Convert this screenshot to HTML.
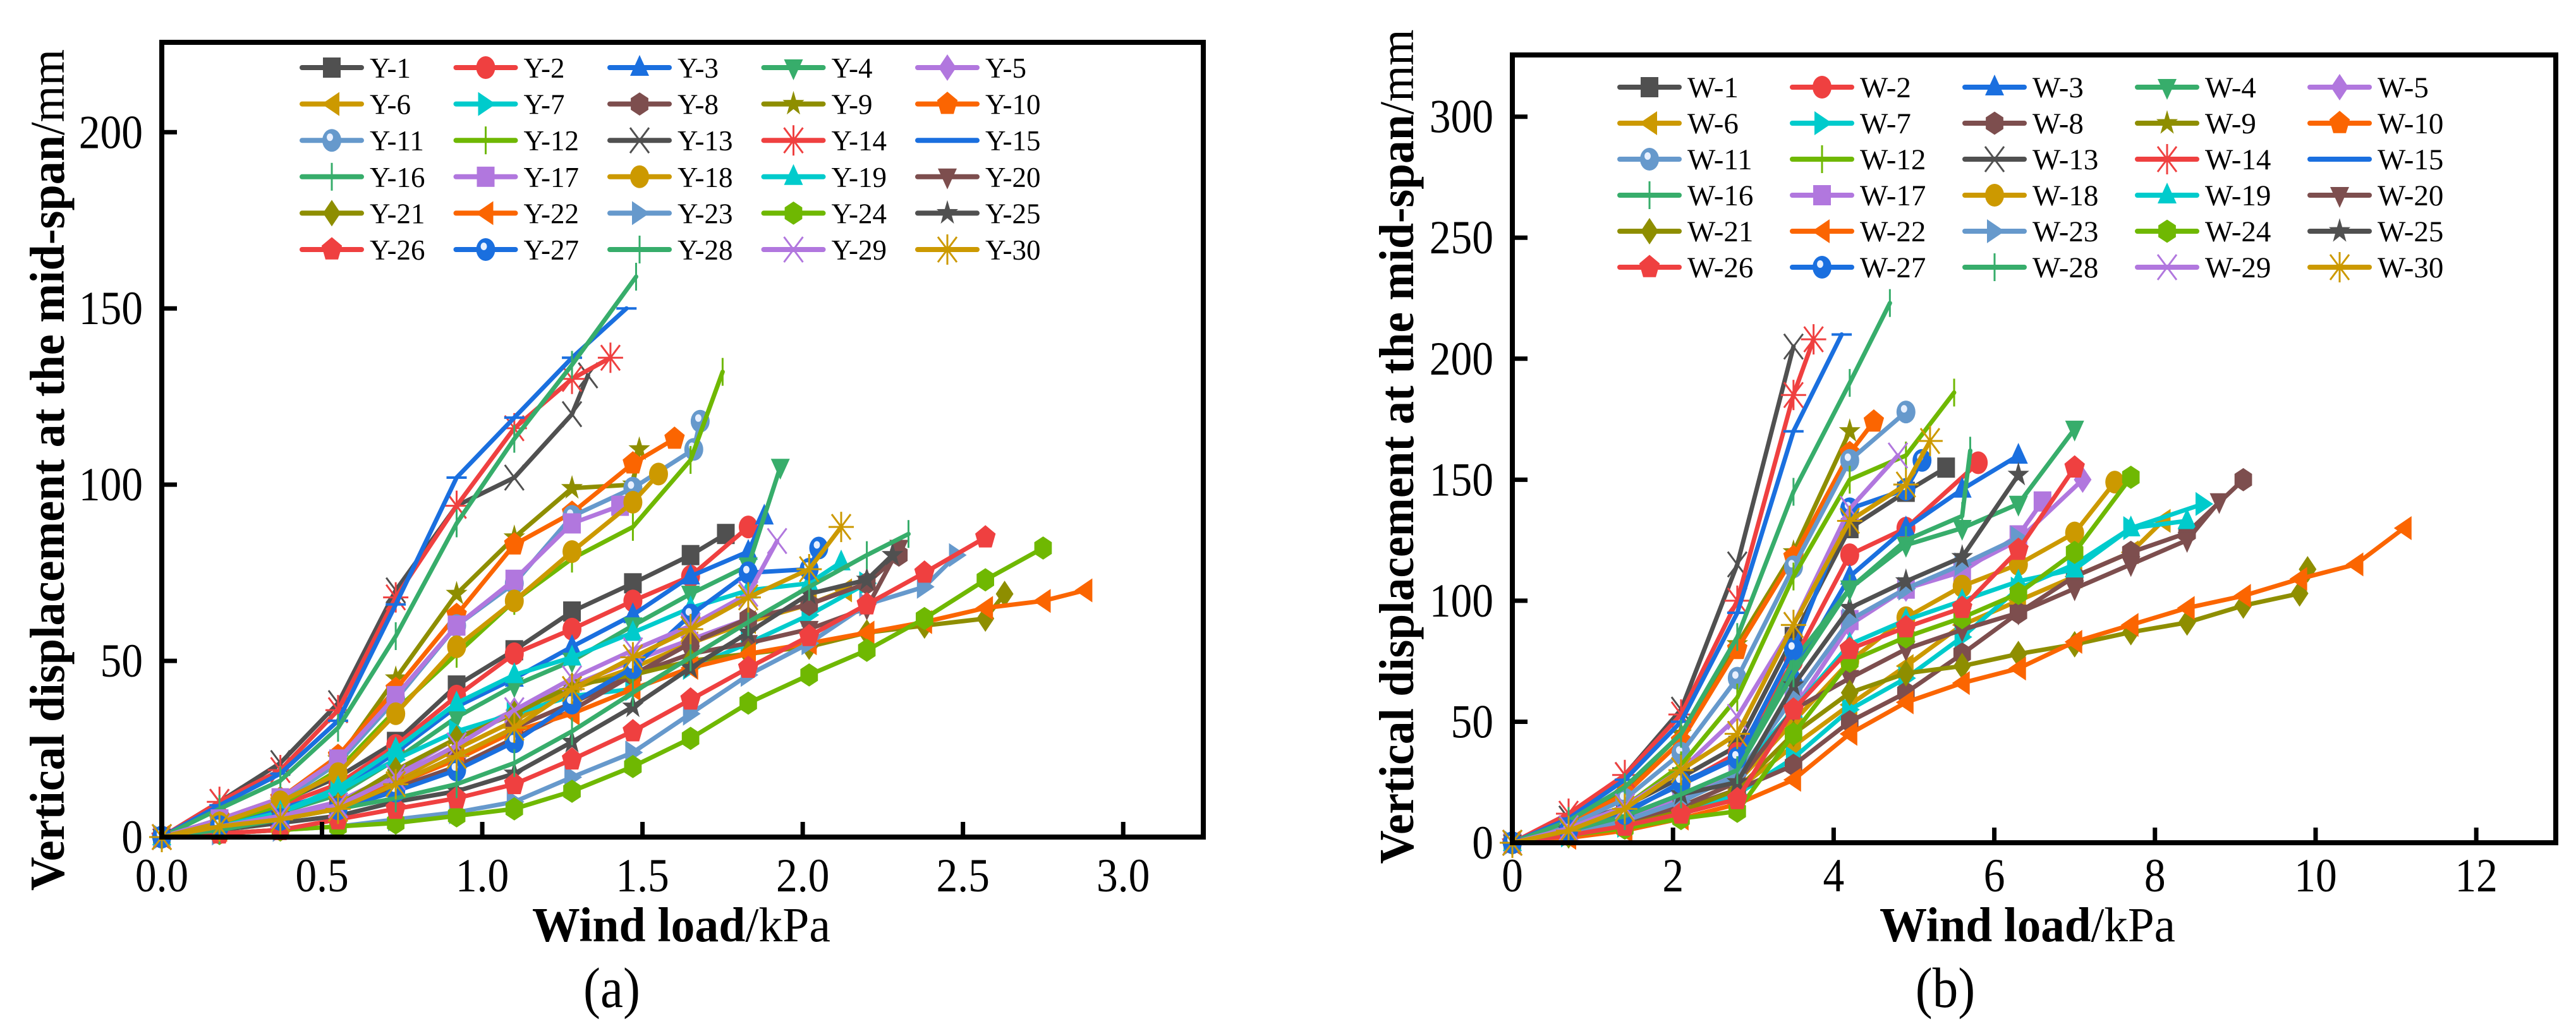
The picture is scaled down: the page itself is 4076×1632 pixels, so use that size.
<!DOCTYPE html>
<html><head><meta charset="utf-8"><style>
html,body{margin:0;padding:0;background:#fff;}
svg{display:block;font-family:"Liberation Serif",serif;}
</style></head><body>
<svg id="fig" width="4076" height="1632" viewBox="0 0 4076 1632" xmlns="http://www.w3.org/2000/svg"></svg>
<script>
// ---- data: panel (a) ----
const aXTicks = [0,0.5,1.0,1.5,2.0,2.5,3.0];
const aXTickLabels = ["0.0","0.5","1.0","1.5","2.0","2.5","3.0"];
const aYTicks = [0,50,100,150,200];
const aNames = ["Y-1","Y-2","Y-3","Y-4","Y-5","Y-6","Y-7","Y-8","Y-9","Y-10","Y-11","Y-12","Y-13","Y-14","Y-15","Y-16","Y-17","Y-18","Y-19","Y-20","Y-21","Y-22","Y-23","Y-24","Y-25","Y-26","Y-27","Y-28","Y-29","Y-30"];
const aPts = [
[[0,0],[.18,5],[.37,10],[.55,17],[.73,27],[.92,43],[1.1,53],[1.28,64],[1.47,72],[1.65,80],[1.76,86]],
[[0,0],[.18,4],[.37,9],[.55,15],[.73,26],[.92,40],[1.1,52],[1.28,59],[1.47,67],[1.65,74],[1.83,88]],
[[0,0],[.18,3],[.37,8],[.55,13],[.73,24],[.92,37],[1.1,45],[1.28,54],[1.47,63],[1.65,74],[1.83,81],[1.88,91]],
[[0,0],[.18,3],[.37,7],[.55,12],[.73,22],[.92,34],[1.1,43],[1.28,50],[1.47,60],[1.65,69],[1.83,77],[1.93,105]],
[[0,0],[.18,2],[.37,6],[.55,10],[.73,18],[.92,28],[1.1,36],[1.28,43],[1.47,50],[1.65,56],[1.83,62]],
[[0,0],[.18,2],[.37,5],[.55,9],[.73,16],[.92,25],[1.1,33],[1.28,42],[1.47,48],[1.65,55],[1.83,61],[2.02,66],[2.13,70]],
[[0,0],[.18,3],[.37,7],[.55,13],[.73,22],[.92,30],[1.1,35],[1.28,40],[1.47,42],[1.65,48],[1.83,55],[2.02,63],[2.2,72]],
[[0,0],[.18,2],[.37,5],[.55,9],[.73,15],[.92,23],[1.1,31],[1.28,38],[1.47,46],[1.65,55],[1.83,62],[2.02,66],[2.2,72],[2.3,80]],
[[0,0],[.18,5],[.37,10],[.55,22],[.73,45],[.92,69],[1.1,85],[1.28,99],[1.47,100],[1.49,110]],
[[0,0],[.18,5],[.37,11],[.55,23],[.73,42],[.92,63],[1.1,83],[1.28,92],[1.47,106],[1.6,113]],
[[0,0],[.18,5],[.37,10],[.55,21],[.73,39],[.92,60],[1.1,72],[1.28,91],[1.47,99],[1.66,110],[1.68,118]],
[[0,0],[.18,4],[.37,9],[.55,19],[.73,36],[.92,52],[1.1,67],[1.28,79],[1.47,88],[1.65,107],[1.75,132]],
[[0,0],[.18,10],[.37,21],[.55,38],[.73,70],[.92,94],[1.1,102],[1.28,120],[1.33,131]],
[[0,0],[.18,10],[.37,19],[.55,36],[.73,68],[.92,94],[1.1,116],[1.28,130],[1.4,136]],
[[0,0],[.18,9],[.37,18],[.55,33],[.73,66],[.92,102],[1.1,119],[1.28,136],[1.45,150]],
[[0,0],[.18,8],[.37,16],[.55,31],[.73,57],[.92,89],[1.1,113],[1.28,134],[1.48,159]],
[[0,0],[.18,5],[.37,11],[.55,22],[.73,40],[.92,60],[1.1,73],[1.28,89],[1.43,94]],
[[0,0],[.18,4],[.37,10],[.55,18],[.73,35],[.92,54],[1.1,67],[1.28,81],[1.47,95],[1.55,103]],
[[0,0],[.18,3],[.37,7],[.55,14],[.73,25],[.92,38],[1.1,46],[1.28,51],[1.47,58],[1.65,65],[1.83,70],[2.02,72],[2.12,78]],
[[0,0],[.18,2],[.37,5],[.55,9],[.73,14],[.92,20],[1.1,28],[1.28,36],[1.47,46],[1.65,52],[1.83,55],[2.02,59],[2.2,65],[2.3,82]],
[[0,0],[.18,2],[.37,5],[.55,9],[.73,19],[.92,28],[1.1,35],[1.28,43],[1.47,46],[1.65,50],[1.83,52],[2.02,54],[2.2,58],[2.38,60],[2.57,62],[2.63,69]],
[[0,0],[.18,2],[.37,5],[.55,9],[.73,15],[.92,22],[1.1,30],[1.28,35],[1.47,42],[1.65,48],[1.83,52],[2.02,55],[2.2,58],[2.38,61],[2.57,65],[2.75,67],[2.88,70]],
[[0,0],[.18,1],[.37,2],[.55,3],[.73,5],[.92,7],[1.1,10],[1.28,17],[1.47,24],[1.65,35],[1.83,46],[2.02,55],[2.2,66],[2.38,71],[2.48,80]],
[[0,0],[.18,1],[.37,2],[.55,3],[.73,4],[.92,6],[1.1,8],[1.28,13],[1.47,20],[1.65,28],[1.83,38],[2.02,46],[2.2,53],[2.38,62],[2.57,73],[2.75,82]],
[[0,0],[.18,2],[.37,4],[.55,6],[.73,10],[.92,13],[1.1,18],[1.28,27],[1.47,37],[1.65,48],[1.83,58],[2.02,69],[2.2,73],[2.28,80]],
[[0,0],[.18,1],[.37,2],[.55,5],[.73,8],[.92,11],[1.1,15],[1.28,22],[1.47,30],[1.65,39],[1.83,48],[2.02,57],[2.2,66],[2.38,75],[2.57,85]],
[[0,0],[.18,3],[.37,5],[.55,8],[.73,13],[.92,19],[1.1,27],[1.28,38],[1.47,48],[1.65,63],[1.83,75],[2.02,76],[2.05,82]],
[[0,0],[.18,2],[.37,5],[.55,8],[.73,11],[.92,15],[1.1,21],[1.28,30],[1.47,41],[1.65,51],[1.83,61],[2.02,71],[2.2,80],[2.33,86]],
[[0,0],[.18,3],[.37,6],[.55,9],[.73,17],[.92,26],[1.1,36],[1.28,45],[1.47,53],[1.65,60],[1.83,69],[1.92,84]],
[[0,0],[.18,3],[.37,5],[.55,8],[.73,15],[.92,23],[1.1,31],[1.28,42],[1.47,51],[1.65,59],[1.83,68],[2.02,76],[2.12,88]]
];
// ---- data: panel (b) ----
const bXTicks = [0,2,4,6,8,10,12];
const bYTicks = [0,50,100,150,200,250,300];
const bNames = ["W-1","W-2","W-3","W-4","W-5","W-6","W-7","W-8","W-9","W-10","W-11","W-12","W-13","W-14","W-15","W-16","W-17","W-18","W-19","W-20","W-21","W-22","W-23","W-24","W-25","W-26","W-27","W-28","W-29","W-30"];
const bPts = [
[[0,0],[.7,7],[1.4,15],[2.1,27],[2.8,40],[3.5,85],[4.2,130],[4.9,145],[5.4,155]],
[[0,0],[.7,6],[1.4,13],[2.1,24],[2.8,37],[3.5,75],[4.2,119],[4.9,130],[5.8,157]],
[[0,0],[.7,6],[1.4,13],[2.1,24],[2.8,35],[3.5,70],[4.2,110],[4.9,130],[5.6,146],[6.3,160]],
[[0,0],[.7,5],[1.4,11],[2.1,20],[2.8,30],[3.5,75],[4.2,105],[4.9,123],[5.6,130],[6.3,140],[7.0,171]],
[[0,0],[.7,5],[1.4,10],[2.1,18],[2.8,28],[3.5,55],[4.2,90],[4.9,105],[5.6,113],[6.3,125],[7.1,150]],
[[0,0],[.7,3],[1.4,7],[2.1,13],[2.8,22],[3.5,40],[4.2,57],[4.9,73],[5.6,90],[6.3,100],[7.0,110],[7.7,120],[8.1,133]],
[[0,0],[.7,3],[1.4,7],[2.1,12],[2.8,20],[3.5,35],[4.2,55],[4.9,68],[5.6,85],[6.3,105],[7.0,115],[7.7,130],[8.6,140]],
[[0,0],[.7,3],[1.4,7],[2.1,14],[2.8,22],[3.5,32],[4.2,50],[4.9,62],[5.6,78],[6.3,95],[7.0,110],[7.7,120],[8.4,128],[9.1,150]],
[[0,0],[.7,9],[1.4,22],[2.1,45],[2.8,82],[3.5,120],[4.2,170]],
[[0,0],[.7,8],[1.4,20],[2.1,42],[2.8,80],[3.5,118],[4.2,161],[4.5,174]],
[[0,0],[.7,7],[1.4,18],[2.1,37],[2.8,68],[3.5,114],[4.2,158],[4.9,178]],
[[0,0],[.7,6],[1.4,15],[2.1,32],[2.8,60],[3.5,110],[4.2,150],[4.9,160],[5.5,186]],
[[0,0],[.7,10],[1.4,28],[2.1,55],[2.8,115],[3.5,205]],
[[0,0],[.7,12],[1.4,28],[2.1,53],[2.8,100],[3.5,185],[3.75,208]],
[[0,0],[.7,10],[1.4,26],[2.1,50],[2.8,95],[3.5,170],[4.1,210]],
[[0,0],[.7,9],[1.4,23],[2.1,45],[2.8,85],[3.5,145],[4.2,190],[4.7,223]],
[[0,0],[.7,4],[1.4,9],[2.1,17],[2.8,28],[3.5,60],[4.2,92],[4.9,105],[5.6,112],[6.3,127],[6.6,141]],
[[0,0],[.7,4],[1.4,8],[2.1,15],[2.8,25],[3.5,50],[4.2,75],[4.9,93],[5.6,106],[6.3,115],[7.0,128],[7.5,149]],
[[0,0],[.7,4],[1.4,9],[2.1,17],[2.8,28],[3.5,55],[4.2,82],[4.9,92],[5.6,100],[6.3,108],[7.0,113],[7.7,130],[8.4,133]],
[[0,0],[.7,4],[1.4,8],[2.1,15],[2.8,25],[3.5,55],[4.2,68],[4.9,80],[5.6,88],[6.3,95],[7.0,105],[7.7,115],[8.4,125],[8.8,141]],
[[0,0],[.7,3],[1.4,7],[2.1,13],[2.8,22],[3.5,45],[4.2,62],[4.9,70],[5.6,73],[6.3,78],[7.0,82],[7.7,87],[8.4,91],[9.1,98],[9.8,103],[9.9,113]],
[[0,0],[.7,2],[1.4,5],[2.1,10],[2.8,16],[3.5,26],[4.2,45],[4.9,58],[5.6,66],[6.3,72],[7.0,83],[7.7,90],[8.4,97],[9.1,102],[9.8,109],[10.5,115],[11.1,130]],
[[0,0],[.7,4],[1.4,9],[2.1,17],[2.8,28],[3.5,60],[4.2,92],[4.9,105],[5.6,115],[6.3,126]],
[[0,0],[.7,3],[1.4,6],[2.1,10],[2.8,13],[3.5,45],[4.2,75],[4.9,85],[5.6,93],[6.3,103],[7.0,120],[7.7,151]],
[[0,0],[.7,5],[1.4,11],[2.1,20],[2.8,25],[3.5,65],[4.2,97],[4.9,108],[5.6,118],[6.3,152]],
[[0,0],[.7,3],[1.4,7],[2.1,12],[2.8,18],[3.5,55],[4.2,80],[4.9,89],[5.6,97],[6.3,121],[7.0,155]],
[[0,0],[.7,5],[1.4,12],[2.1,25],[2.8,35],[3.5,80],[4.2,138],[4.9,146],[5.1,158]],
[[0,0],[.7,5],[1.4,11],[2.1,20],[2.8,30],[3.5,70],[4.2,105],[4.9,125],[5.6,135],[5.7,162]],
[[0,0],[.7,6],[1.4,15],[2.1,30],[2.8,52],[3.5,90],[4.2,138],[4.8,160]],
[[0,0],[.7,5],[1.4,14],[2.1,30],[2.8,45],[3.5,90],[4.2,133],[4.9,148],[5.2,166]]
];
const colors = ["#505050","#ef4040","#1a6fdf","#37ad6b","#b177de","#cc9900","#00cbcc","#7d4e4e","#8e8e00","#fb6501","#6699cc","#6fb802","#505050","#ef4040","#1a6fdf","#37ad6b","#b177de","#cc9900","#00cbcc","#7d4e4e","#8e8e00","#fb6501","#6699cc","#6fb802","#505050","#ef4040","#1a6fdf","#37ad6b","#b177de","#cc9900"];
const shapes = ["square","circle","tri","tridown","diamond","ltri","rtri","hex","star","pent","ball","vplus","x","ast","hdash","vplus","square","circle","tri","tridown","diamond","ltri","rtri","hex","star","pent","ball","vplus","x","ast"];

const NS="http://www.w3.org/2000/svg";
const svg=document.getElementById('fig');
function el(tag,attrs,parent){const e=document.createElementNS(NS,tag);for(const k in attrs)e.setAttribute(k,attrs[k]);(parent||svg).appendChild(e);return e;}
function poly(pts){return pts.map(p=>p[0].toFixed(1)+","+p[1].toFixed(1)).join(" ");}
function reg(n,r,rot){const a=[];for(let i=0;i<n;i++){const t=rot+i*2*Math.PI/n;a.push([r*Math.cos(t),r*Math.sin(t)*1.15]);}return a;}
function marker(g,shape,cx,cy,c){
  const tr=p=>p.map(q=>[q[0]+cx,q[1]+cy]);
  let m;
  switch(shape){
    case "square": m=el('rect',{x:cx-14,y:cy-16,width:28,height:32,fill:c},g);break;
    case "circle": m=el('ellipse',{cx:cx,cy:cy,rx:15,ry:18,fill:c},g);break;
    case "ball": m=el('ellipse',{cx:cx,cy:cy,rx:15,ry:18,fill:c},g);el('ellipse',{cx:cx-3,cy:cy-5,rx:5,ry:6,fill:"#e8f0ff"},g);break;
    case "tri": m=el('polygon',{points:poly(tr([[0,-20],[15,13],[-15,13]])),fill:c},g);break;
    case "tridown": m=el('polygon',{points:poly(tr([[0,20],[15,-13],[-15,-13]])),fill:c},g);break;
    case "ltri": m=el('polygon',{points:poly(tr([[-16,0],[12,-19],[12,19]])),fill:c},g);break;
    case "rtri": m=el('polygon',{points:poly(tr([[16,0],[-12,-19],[-12,19]])),fill:c},g);break;
    case "diamond": m=el('polygon',{points:poly(tr([[0,-21],[14,0],[0,21],[-14,0]])),fill:c},g);break;
    case "hex": m=el('polygon',{points:poly(tr(reg(6,16,-Math.PI/2))),fill:c},g);break;
    case "pent": m=el('polygon',{points:poly(tr(reg(5,17,-Math.PI/2))),fill:c},g);break;
    case "star":{const a=[];for(let i=0;i<10;i++){const r=i%2?7:18,t=-Math.PI/2+i*Math.PI/5;a.push([r*Math.cos(t),r*Math.sin(t)*1.15]);}m=el('polygon',{points:poly(tr(a)),fill:c},g);break;}
    case "vplus": m=el('line',{x1:cx,y1:cy-22,x2:cx,y2:cy+22,stroke:c,'stroke-width':3},g);break;
    case "hdash": m=el('line',{x1:cx-16,y1:cy,x2:cx+16,y2:cy,stroke:c,'stroke-width':4},g);break;
    case "x": m=el('path',{d:`M${cx-15},${cy-20}L${cx+15},${cy+20}M${cx+15},${cy-20}L${cx-15},${cy+20}`,stroke:c,'stroke-width':3,fill:'none'},g);break;
    case "ast": m=el('path',{d:`M${cx-15},${cy-20}L${cx+15},${cy+20}M${cx+15},${cy-20}L${cx-15},${cy+20}M${cx},${cy-24}L${cx},${cy+24}M${cx-20},${cy}L${cx+20},${cy}`,stroke:c,'stroke-width':3,fill:'none'},g);break;
  }
  return m;
}
function panel(cfg){
  const {left,right,top,bottom,xmax,ymax,xTicks,xLabels,yTicks,names,pts,legX,legY,legColStep,legRowStep,legFont,id}=cfg;
  const X=v=>left+(v/xmax)*(right-left);
  const Y=v=>bottom-(v/ymax)*(bottom-top);
  const g=el('g',{});
  
  
  for(let s=0;s<pts.length;s++){
    const sg=el('g',{},g);
    
    
    const p=pts[s].map(q=>[X(q[0]),Y(q[1])]);
    el('polyline',{points:poly(p),fill:'none',stroke:colors[s],'stroke-width':7,'stroke-linejoin':'round','stroke-linecap':'round'},sg);
    p.forEach(q=>marker(sg,shapes[s],q[0],q[1],colors[s]));
  }
  const fr=el('rect',{x:left,y:top,width:right-left,height:bottom-top,fill:'none',stroke:'#000','stroke-width':8},g);
  
  
  xTicks.forEach((t,i)=>{
    const x=X(t);
    el('line',{x1:x,y1:bottom,x2:x,y2:bottom-24,stroke:'#000','stroke-width':7},g);
    const tx=el('text',{x:0,y:0,'font-size':75,'text-anchor':'middle',fill:'#000',transform:`translate(${x},1411) scale(0.9,1)`},g);
    tx.textContent=xLabels[i];
    
    
  });
  yTicks.forEach(t=>{
    const y=Y(t);
    el('line',{x1:left,y1:y,x2:left+24,y2:y,stroke:'#000','stroke-width':7},g);
    const tx=el('text',{x:0,y:0,'font-size':75,'text-anchor':'end',fill:'#000',transform:`translate(${left-30},${y+25}) scale(0.9,1)`},g);
    tx.textContent=String(t);
    
    
  });
  const lg=el('g',{},g);
  
  
  names.forEach((n,i)=>{
    const col=i%5,row=Math.floor(i/5);
    const lx=legX+col*legColStep, ly=legY+row*legRowStep;
    const eg=el('g',{},lg);
    
    
    el('line',{x1:lx,y1:ly,x2:lx+94,y2:ly,stroke:colors[i],'stroke-width':8,'stroke-linecap':'round'},eg);
    marker(eg,shapes[i],lx+47,ly,colors[i]);
    const t=el('text',{x:lx+107,y:ly+16,'font-size':legFont,fill:'#000'},eg);
    t.textContent=n;
  });
  return g;
}
panel({id:'a',left:256,right:1904,top:67,bottom:1325,xmax:3.25,ymax:225.5,xTicks:aXTicks,xLabels:aXTickLabels,yTicks:aYTicks,names:aNames,pts:aPts,legX:478,legY:107,legColStep:243.5,legRowStep:57.6,legFont:45});
panel({id:'b',left:2393,right:4044,top:87,bottom:1334,xmax:12.99,ymax:325.5,xTicks:bXTicks,xLabels:bXTicks.map(String),yTicks:bYTicks,names:bNames,pts:bPts,legX:2563,legY:138,legColStep:273,legRowStep:57,legFont:47});

function title(x,y,bold,reg,rot,len,id){
  const t=el('text',{x:x,y:y,'font-size':77,'text-anchor':'middle',fill:'#000'});
  if(rot)t.setAttribute('transform',`rotate(-90 ${x} ${y})`);
  if(len){t.setAttribute('textLength',len);t.setAttribute('lengthAdjust','spacingAndGlyphs');}
  const a=el('tspan',{'font-weight':'bold'},t);a.textContent=bold;
  const b=el('tspan',{},t);b.textContent=reg;
  
  
}
title(1078,1490,'Wind load','/kPa',false,472,'a-x-axis-title');
title(3208,1490,'Wind load','/kPa',false,468,'b-x-axis-title');
title(101,744,'Vertical displacement at the mid-span','/mm',true,1332,'a-y-axis-title');
title(2236,707,'Vertical displacement at the mid-span','/mm',true,1321,'b-y-axis-title');
const ca=el('text',{x:0,y:0,'font-size':90,'text-anchor':'middle',transform:'translate(968,1594) scale(0.9,1)'});ca.textContent='(a)';


const cb=el('text',{x:0,y:0,'font-size':90,'text-anchor':'middle',transform:'translate(3078,1594) scale(0.9,1)'});cb.textContent='(b)';


</script>
</body></html>
